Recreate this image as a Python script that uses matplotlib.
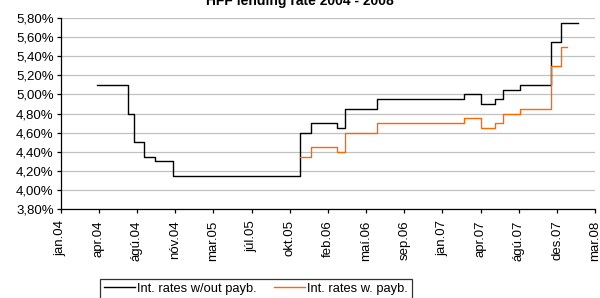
import datetime as dt
import matplotlib
matplotlib.use('Agg')
import matplotlib.pyplot as plt
import matplotlib.dates as mdates

plt.rcParams['font.family'] = ['Liberation Sans', 'DejaVu Sans']

# 이자율 (지불금 미포함) - 계단형
dates_a = ['2004-04-16', '2004-07-14', '2004-07-30', '2004-08-29', '2004-09-30',
           '2004-11-20', '2005-11-22', '2005-12-21', '2006-03-06', '2006-03-31',
           '2006-06-30', '2007-03-08', '2007-04-25', '2007-06-04', '2007-06-27',
           '2007-08-15', '2007-11-13', '2007-12-12', '2008-01-30']
rates_a = [5.10, 4.80, 4.50, 4.35, 4.30,
           4.15, 4.60, 4.70, 4.65, 4.85,
           4.95, 5.00, 4.90, 4.95, 5.05,
           5.10, 5.55, 5.75, 5.75]

# 이자율 (지불금 포함)
dates_b = ['2005-11-22', '2005-12-21', '2006-03-06', '2006-03-31', '2006-06-30',
           '2007-03-08', '2007-04-25', '2007-06-04', '2007-06-27', '2007-08-15',
           '2007-11-13', '2007-12-12', '2007-12-30']
rates_b = [4.35, 4.45, 4.40, 4.60, 4.70,
           4.75, 4.65, 4.70, 4.80, 4.85,
           5.30, 5.50, 5.50]

label_a = 'Int. rates w/out payb.'
label_b = 'Int. rates w. payb.'
title = 'HFF lending rate 2004 - 2008'
month_names = ['jan', 'feb', 'mar', 'apr', 'maí', 'jún',
               'júl', 'ágú', 'sep', 'okt', 'nóv', 'des']
y_ticks = [3.80, 4.00, 4.20, 4.40, 4.60, 4.80, 5.00, 5.20, 5.40, 5.60, 5.80]


def to_dates(lst):
    return [dt.datetime.strptime(s, '%Y-%m-%d') for s in lst]


fig = plt.figure(figsize=(6.0, 2.98), dpi=100)
ax = fig.add_axes([0.101, 0.2977, 0.891, 0.642])

ax.step(to_dates(dates_a), rates_a, where='post', color='#000000', lw=1.0, label=label_a)
ax.step(to_dates(dates_b), rates_b, where='post', color='#FF6600', lw=1.0, label=label_b)

# x축: 2004-01-01 부터 110일 간격 눈금
start = dt.datetime(2004, 1, 1)
x_ticks = [start + dt.timedelta(days=110 * k) for k in range(15)]
ax.set_xlim(x_ticks[0], x_ticks[-1])
ax.set_xticks(x_ticks)
ax.set_xticklabels([f'{month_names[d.month - 1]}.{d.strftime("%y")}' for d in x_ticks],
                   rotation=90, fontsize=9.5)

ax.set_ylim(3.80, 5.80)
ax.set_yticks(y_ticks)
ax.set_yticklabels([f'{v:.2f}%'.replace('.', ',') for v in y_ticks], fontsize=9.5)

ax.grid(axis='y', color='#C0C0C0', lw=0.9)
ax.set_axisbelow(True)
for s in ['top', 'right']:
    ax.spines[s].set_visible(False)
ax.spines['left'].set_linewidth(0.9)
ax.spines['bottom'].set_linewidth(0.9)
ax.tick_params(axis='both', direction='out', length=3, width=0.9, pad=2)
ax.tick_params(axis='x', pad=5)

fig.text(0.5, 1 - 5 / 298, title, ha='center', va='baseline',
         fontsize=10, fontweight='bold')

leg = fig.legend(loc='upper left', bbox_to_anchor=(100 / 600, 1 - 279 / 298),
                 ncol=2, fontsize=9.3, frameon=True, fancybox=False,
                 edgecolor='black', handlelength=2.4, handletextpad=0.2,
                 columnspacing=1.3, borderpad=0.3, borderaxespad=0)
leg.get_frame().set_linewidth(0.9)

fig.savefig('out.png', dpi=100)
